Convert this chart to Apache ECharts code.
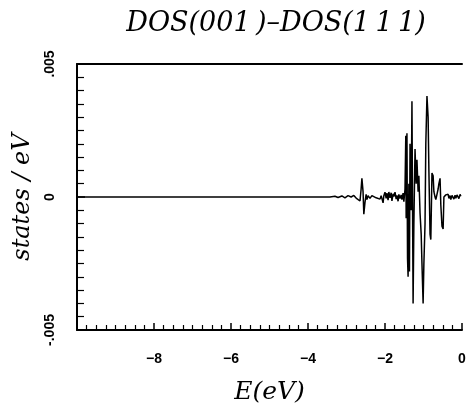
<!DOCTYPE html>
<html>
<head>
<meta charset="utf-8">
<script src="https://cdn.jsdelivr.net/npm/echarts@6/dist/echarts.min.js"></script>
<style>html,body{margin:0;padding:0;background:#fff}#c{width:468px;height:404px}</style>
</head>
<body>
<div id="c"></div>
<script>
// Energy (eV)
var energy = [-10, -9, -8, -7, -6, -5, -4, -3.7, -3.43, -3.30, -3.22, -3.12, -3.04, -2.96, -2.88, -2.81, -2.75, -2.70,
  -2.65, -2.62, -2.60, -2.57, -2.55, -2.52, -2.49, -2.47, -2.44, -2.39, -2.34, -2.29, -2.23, -2.18, -2.13, -2.10,
  -2.08, -2.05, -2.03, -2.00, -1.97, -1.95, -1.92, -1.90, -1.87, -1.84, -1.82, -1.79, -1.77, -1.74, -1.71, -1.69,
  -1.66, -1.64, -1.61, -1.58, -1.56, -1.53, -1.51, -1.48, -1.46, -1.45, -1.44, -1.43, -1.415, -1.40, -1.38, -1.365, -1.35, -1.32, -1.30, -1.27,
  -1.25, -1.22, -1.19, -1.17, -1.14, -1.12, -1.09, -1.06, -1.04, -1.01, -0.99, -0.96, -0.94, -0.91, -0.88, -0.86,
  -0.83, -0.81, -0.78, -0.75, -0.73, -0.70, -0.68, -0.65, -0.62, -0.60, -0.57, -0.55, -0.52, -0.49, -0.47, -0.44,
  -0.42, -0.39, -0.36, -0.34, -0.31, -0.29, -0.26, -0.23, -0.21, -0.18, -0.16, -0.13, -0.10, -0.08, -0.05, -0.03, 0.00];
// DOS(001) - DOS(111) (states/eV)
var dosDiff = [0, 0, 0, 0, 0, 0, 0, 0, 0, 0.00003, -0.00002, 0.00004, -0.00003, 0.00005, 0, 0.00006, -0.00004, 0.00003,
  -0.00015, 0.0003, 0.0007, 0.0002, -0.00065, -0.0002, 0.0001, -0.0001, 0.00005, -0.00005, 0.00005, 0, -0.00003, 0.00003, -0.00008, 0.00005,
  0, -0.00022, 0.00005, 0.00018, -0.00005, 0.00015, -0.00012, 0.00019, -0.00003, 0.00016, -0.00015, 0.00012, 0.00002, 0.00018, -0.00008, 0.00006,
  -0.00016, 0.0001, -0.00006, 0.00008, -0.0001, 0.00015, -0.00018, 0.0003, 0.0023, -0.0008, 0.0012, 0.0024, -0.0023, -0.0030, 0.0005, -0.0028, 0.0020, -0.0005, 0.0036, -0.0040,
  -0.0010, 0.0018, 0.0005, 0.0014, 0.0002, 0.0008, -0.0006, -0.0014, -0.0025, -0.0040, -0.0025, -0.0010, 0.0020, 0.0038, 0.0030, 0.0010,
  -0.0014, -0.0016, 0.0009, 0.0008, 0.0002, 0, -0.0001, 0.0001, 0.0003, 0.0005, 0.0007, -0.0003, -0.0011, -0.0012, 0, -0.00003,
  0.00008, 0.00005, 0.0001, -0.00005, 0.00005, -0.0001, 0.00006, 0.00003, -0.00008, 0.00007, -0.00005, 0.00008, 0.00002, -0.00006, 0.0001, 0.00003, 0.00008];
var xTickLabels = {'-8': '\u22128', '-6': '\u22126', '-4': '\u22124', '-2': '\u22122', '0': '0'};
var yTickLabels = {'-0.005': '-.005', '0': '0', '0.005': '.005'};
var titleText = 'DOS(001\u2009)\u2013DOS(1\u20091\u20091)';

var chart = echarts.init(document.getElementById('c'), null, {renderer: 'canvas'});
var pts = energy.map(function (e, i) { return [e, dosDiff[i]]; });
var serif = '"DejaVu Serif", "Liberation Serif", serif';
chart.setOption({
  animation: false,
  backgroundColor: '#fff',
  title: {
    text: titleText, left: 271, top: 5, textAlign: 'center',
    textStyle: {fontFamily: serif, fontStyle: 'italic', fontWeight: 'normal', fontSize: 27, color: '#000'}
  },
  grid: {left: 77, right: 6, top: 64, bottom: 74, containLabel: false, outerBoundsMode: 'none'},
  xAxis: [{
    type: 'value', min: -10, max: 0, interval: 2,
    name: 'E(eV)', nameLocation: 'middle', nameGap: 50,
    nameTextStyle: {fontFamily: serif, fontStyle: 'italic', fontSize: 25, color: '#000'},
    axisLine: {show: true, onZero: false, lineStyle: {color: '#000', width: 2}},
    axisTick: {show: true, inside: true, length: 7, lineStyle: {color: '#000', width: 1.5}},
    minorTick: {show: true, splitNumber: 8, length: 5, lineStyle: {color: '#000', width: 1.2}},
    axisLabel: {margin: 22, fontFamily: 'Liberation Sans, Arial, sans-serif', fontSize: 14, fontWeight: 'bold', color: '#000',
      formatter: function (v) { return xTickLabels[String(v)] || ''; }},
    splitLine: {show: false}
  }, {
    type: 'value', min: -10, max: 0, position: 'top',
    axisLine: {show: true, onZero: false, lineStyle: {color: '#000', width: 2}},
    axisTick: {show: false}, axisLabel: {show: false}, splitLine: {show: false}
  }],
  yAxis: {
    type: 'value', min: -0.005, max: 0.005, interval: 0.005,
    name: 'states / eV', nameLocation: 'middle', nameGap: 42,
    nameTextStyle: {fontFamily: serif, fontStyle: 'italic', fontSize: 24, color: '#000'},
    axisLine: {show: true, onZero: false, lineStyle: {color: '#000', width: 2}},
    axisTick: {show: true, inside: true, length: 8, lineStyle: {color: '#000', width: 1.5}},
    minorTick: {show: true, splitNumber: 10, length: 7, lineStyle: {color: '#000', width: 1.2}},
    axisLabel: {rotate: 90, margin: 20, fontFamily: 'Liberation Sans, Arial, sans-serif', fontSize: 14, fontWeight: 'bold', color: '#000',
      formatter: function (v) { return yTickLabels[String(v)] || ''; }},
    splitLine: {show: false}
  },
  series: [{
    type: 'line', data: pts, showSymbol: false, symbol: 'none',
    lineStyle: {color: '#000', width: 1.5}
  }]
});
</script>
</body>
</html>
